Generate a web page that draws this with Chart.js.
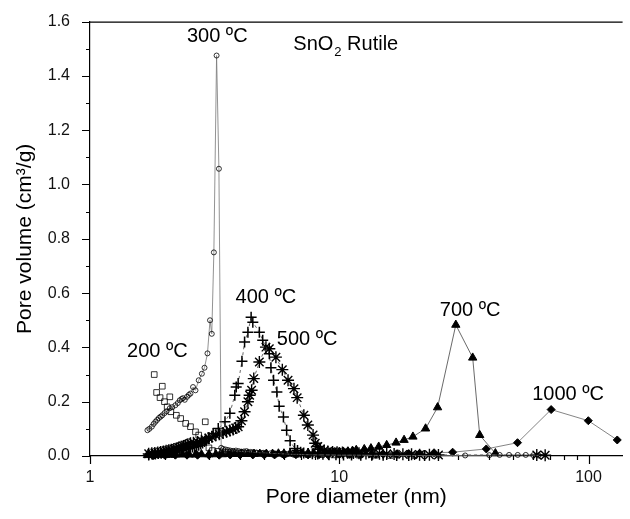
<!DOCTYPE html>
<html lang="en">
<head>
<meta charset="UTF-8">
<title>SnO2 Rutile pore size distribution</title>
<script src="https://cdn.jsdelivr.net/npm/chart.js@4/dist/chart.umd.min.js"></script>
<style>
  * { margin: 0; padding: 0; box-sizing: border-box; }
  body { background: #fff; width: 630px; height: 519px; overflow: hidden; }
  #wrap { position: relative; width: 630px; height: 519px; }
</style>
</head>
<body>
<div id="wrap"><canvas id="chart"></canvas></div>
<script>
// pore diameter (nm), pore volume (cm3/g)
const s200 = [[1.81,0.30],[1.85,0.234],[1.91,0.215],[1.95,0.257],[1.99,0.20],[2.04,0.181],[2.09,0.218],[2.11,0.163],
  [2.22,0.15],[2.31,0.138],[2.42,0.12],[2.53,0.108],[2.65,0.089],[2.73,0.077],[2.90,0.126],[3.0,0.03],[3.1,0.02],
  [3.25,0.017],[3.4,0.015],[3.6,0.013],[3.8,0.012],[4.05,0.011],[4.3,0.01],[4.6,0.009],[5.0,0.008],[5.5,0.007],
  [6.0,0.006],[6.7,0.006],[7.5,0.005],[8.5,0.005],[9.5,0.004],[11,0.004],[12,0.003],[14,0.003],[16,0.002],[20,0.002]];

const s300 = [[1.70,0.095],[1.73,0.100],[1.77,0.108],[1.80,0.118],[1.83,0.126],[1.86,0.133],[1.89,0.14],[1.92,0.145],
  [1.95,0.15],[1.99,0.158],[2.03,0.165],[2.09,0.176],[2.14,0.18],[2.20,0.187],[2.25,0.195],[2.29,0.205],[2.33,0.21],
  [2.36,0.213],[2.40,0.207],[2.45,0.218],[2.49,0.225],[2.53,0.23],[2.59,0.254],[2.65,0.242],[2.73,0.279],[2.81,0.303],
  [2.88,0.325],[2.96,0.378],[3.03,0.50],[3.08,0.45],[3.14,0.75],[3.22,1.475],[3.29,1.058],[3.36,0.03],[3.42,0.026],
  [3.5,0.024],[3.58,0.022],[3.66,0.02],[3.75,0.019],[3.85,0.02],[3.95,0.018],[4.05,0.016],[4.15,0.017],[4.25,0.018],
  [4.4,0.015],[4.5,0.014],[4.65,0.013],[4.8,0.012],[4.95,0.012],[5.1,0.011],[5.3,0.01],[5.5,0.009],[5.7,0.009],
  [5.9,0.008],[6.2,0.007],[6.5,0.006],[6.9,0.006],[7.4,0.005],[8,0.004],[9,0.004],[10,0.003],[12,0.003],[14,0.002],
  [17,0.002],[20,0.002],[25,0.001],[32,0.002],[40,0.003],[44,0.004],[48,0.004],[52,0.004],[56,0.004],[60,0.003],[63,0.002]];

const s400 = [[1.72,0.004],[1.78,0.006],[1.83,0.007],[1.88,0.009],[1.93,0.01],[1.98,0.011],[2.03,0.012],[2.08,0.014],
  [2.13,0.015],[2.18,0.017],[2.23,0.018],[2.28,0.02],[2.33,0.022],[2.38,0.024],[2.43,0.026],[2.48,0.028],[2.53,0.03],
  [2.58,0.033],[2.63,0.035],[2.68,0.037],[2.73,0.04],[2.78,0.044],[2.83,0.048],[2.88,0.053],[2.93,0.058],[2.99,0.065],
  [3.12,0.083],[3.27,0.101],[3.48,0.126],[3.64,0.157],[3.81,0.224],[3.86,0.254],[3.93,0.267],[4.07,0.349],[4.17,0.42],
  [4.30,0.456],[4.43,0.511],[4.50,0.493],[4.78,0.456],[4.93,0.426],[5.24,0.377],[5.32,0.325],[5.45,0.279],[5.62,0.236],
  [5.74,0.183],[5.97,0.144],[6.15,0.095],[6.35,0.056],[6.62,0.028],[6.8,0.02],[7.0,0.014],[7.2,0.011],[7.5,0.009],
  [7.8,0.008],[8.2,0.007],[8.6,0.006],[9.1,0.005],[9.7,0.005],[10.4,0.004],[11.2,0.004],[12.2,0.003],[13.5,0.003],
  [15,0.003],[17,0.002],[19,0.002],[22,0.002]];

const s500 = [[1.72,0.008],[1.77,0.01],[1.82,0.011],[1.87,0.013],[1.92,0.015],[1.97,0.017],[2.02,0.019],[2.07,0.021],
  [2.12,0.023],[2.17,0.026],[2.22,0.028],[2.27,0.031],[2.32,0.034],[2.37,0.037],[2.42,0.04],[2.47,0.043],[2.53,0.047],
  [2.6,0.049],[2.7,0.052],[2.8,0.056],[2.9,0.06],[3.0,0.066],[3.08,0.071],[3.2,0.076],[3.3,0.08],[3.42,0.085],
  [3.53,0.089],[3.64,0.094],[3.75,0.098],[3.84,0.103],[3.93,0.108],[4.05,0.13],[4.17,0.163],[4.30,0.2],[4.37,0.224],
  [4.45,0.242],[4.54,0.285],[4.78,0.346],[5.08,0.401],[5.24,0.395],[5.57,0.364],[5.91,0.318],[6.23,0.279],[6.58,0.248],
  [6.78,0.215],[7.21,0.15],[7.48,0.114],[7.85,0.077],[8.01,0.047],[8.2,0.035],[8.4,0.025],[8.7,0.02],[9,0.017],
  [9.4,0.015],[9.8,0.014],[10.3,0.013],[10.8,0.012],[11.4,0.011],[12,0.01],[12.8,0.009],[13.6,0.008],[14.5,0.008],
  [15.5,0.007],[16.6,0.007],[18,0.006],[19.5,0.006],[21,0.005],[23,0.005],[25,0.004],[62,0.004],[67,0.003]];

const s700 = [[1.7,0.003],[1.8,0.003],[1.9,0.004],[2.0,0.004],[2.1,0.004],[2.2,0.005],[2.35,0.005],[2.5,0.005],
  [2.65,0.005],[2.8,0.006],[3.0,0.006],[3.2,0.006],[3.4,0.006],[3.6,0.007],[3.8,0.007],[4.05,0.007],[4.3,0.007],
  [4.55,0.008],[4.8,0.008],[5.1,0.008],[5.4,0.008],[5.7,0.009],[6.0,0.009],[6.35,0.009],[6.7,0.01],[7.1,0.01],
  [7.5,0.011],[7.9,0.011],[8.3,0.012],[8.8,0.012],[9.2,0.013],[9.6,0.014],[10.0,0.015],[10.4,0.015],[10.85,0.016],
  [11.3,0.019],[11.7,0.022],[12.6,0.025],[13.4,0.028],[14.4,0.034],[15.5,0.04],[16.9,0.049],[18.2,0.059],
  [19.75,0.071],[22.2,0.101],[24.8,0.179],[29.35,0.483],[34.3,0.362],[36.6,0.077],[42.3,0.01]];

const s1000 = [[1.8,0.002],[2.0,0.003],[2.2,0.003],[2.45,0.003],[2.7,0.003],[3.0,0.003],[3.3,0.003],[3.65,0.004],
  [4,0.004],[4.5,0.004],[5,0.004],[5.5,0.004],[6,0.004],[6.7,0.005],[7.5,0.005],[8.3,0.005],[9,0.005],[10,0.006],
  [11,0.006],[12.2,0.006],[13.5,0.007],[15,0.007],[17,0.008],[19,0.009],[21,0.01],[24,0.012],[28.5,0.014],
  [38.9,0.026],[51.9,0.049],[70.8,0.171],[99.8,0.13],[130.4,0.059]];

// axis ticks
const xMin = 1, xMax = 137;
const xMajor = [1, 10, 100];
const xMinor = [2, 3, 4, 5, 6, 7, 8, 9, 20, 30, 40, 50, 60, 70, 80, 90];
const yMajor = [0, 0.2, 0.4, 0.6, 0.8, 1.0, 1.2, 1.4, 1.6];
const yMinor = [0.1, 0.3, 0.5, 0.7, 0.9, 1.1, 1.3, 1.5];

// in-plot labels, anchored in data units (centre x, baseline y)
const labelText = ['300 \u00baC', '400 \u00baC', '500 \u00baC', '200 \u00baC', '700 \u00baC', '1000 \u00baC'];
const labelX = [3.24, 5.08, 7.43, 1.864, 33.5, 82.8];
const labelY = [1.524, 0.5626, 0.407, 0.364, 0.515, 0.208];
const titleX = 6.54, titleY = 1.496;

const FONT = '"Liberation Sans", Arial, sans-serif';
const pts = arr => arr.map(p => ({ x: p[0], y: p[1] }));

function series(data, style, radius, fill, bw, line, dash) {
  return {
    data: pts(data),
    pointStyle: style,
    pointRadius: radius,
    pointHoverRadius: radius,
    pointBorderColor: '#000',
    pointBackgroundColor: fill ? '#000' : 'rgba(0,0,0,0)',
    pointBorderWidth: bw,
    borderColor: line || 'rgba(0,0,0,0)',
    borderWidth: 0.8,
    borderDash: dash || [],
    showLine: !!line,
    clip: false
  };
}

const frame = {
  id: 'frame',
  afterDraw(chart) {
    const { ctx, chartArea: a, scales: { x, y } } = chart;
    ctx.save();
    ctx.strokeStyle = '#000';
    ctx.lineWidth = 1.2;
    ctx.beginPath();
    ctx.moveTo(a.left, a.top + 0.5);
    ctx.lineTo(a.right, a.top + 0.5);
    yMajor.forEach(v => { const p = Math.round(y.getPixelForValue(v)) + 0.5; ctx.moveTo(a.left - 8, p); ctx.lineTo(a.left, p); });
    yMinor.forEach(v => { const p = Math.round(y.getPixelForValue(v)) + 0.5; ctx.moveTo(a.left - 4, p); ctx.lineTo(a.left, p); });
    xMajor.forEach(v => { const p = Math.round(x.getPixelForValue(v)) + 0.5; ctx.moveTo(p, a.bottom); ctx.lineTo(p, a.bottom + 8); });
    xMinor.forEach(v => { const p = Math.round(x.getPixelForValue(v)) + 0.5; ctx.moveTo(p, a.bottom); ctx.lineTo(p, a.bottom + 4); });
    ctx.stroke();

    ctx.fillStyle = '#000';
    ctx.textBaseline = 'alphabetic';
    ctx.textAlign = 'center';
    ctx.font = '20px ' + FONT;
    labelText.forEach((t, i) => ctx.fillText(t, x.getPixelForValue(labelX[i]), y.getPixelForValue(labelY[i])));

    // SnO2 Rutile with subscript
    ctx.textAlign = 'left';
    let tx = x.getPixelForValue(titleX);
    const ty = y.getPixelForValue(titleY);
    ctx.font = '20px ' + FONT;
    ctx.fillText('SnO', tx, ty);
    tx += ctx.measureText('SnO').width;
    ctx.font = '13px ' + FONT;
    ctx.fillText('2', tx + 1, ty + 6);
    tx += ctx.measureText('2').width + 1;
    ctx.font = '20px ' + FONT;
    ctx.fillText(' Rutile', tx, ty);
    ctx.restore();
  }
};

new Chart(document.getElementById('chart'), {
  type: 'scatter',
  data: {
    datasets: [
      series(s200, 'rect', 4, false, 0.8, null),
      series(s300, 'circle', 2.5, false, 0.8, '#777'),
      series(s400, 'cross', 5.5, false, 1.5, '#444', [3, 3]),
      series(s500, 'star', 6, false, 1.4, '#444', [3, 3]),
      series(s700, 'triangle', 4.8, true, 1, '#444'),
      series(s1000, 'rectRot', 4, true, 1, '#666')
    ]
  },
  options: {
    responsive: true,
    maintainAspectRatio: false,
    animation: false,
    events: [],
    layout: { padding: { top: 19, right: 0, left: 0, bottom: 0 } },
    plugins: { legend: { display: false }, tooltip: { enabled: false } },
    scales: {
      x: {
        type: 'logarithmic',
        min: xMin,
        max: xMax,
        afterBuildTicks: s => { s.ticks = xMajor.map(v => ({ value: v })); },
        afterFit: s => { s.height = 63; },
        grid: { display: false },
        border: { display: true, color: '#000', width: 1.2 },
        ticks: {
          padding: 4,
          color: '#111',
          font: { family: FONT, size: 16 },
          maxRotation: 0,
          callback: v => String(v)
        },
        title: {
          display: true,
          text: 'Pore diameter (nm)',
          color: '#000',
          font: { family: FONT, size: 21, lineHeight: 1 },
          padding: { top: 0, bottom: 11 }
        }
      },
      y: {
        min: 0,
        max: 1.6,
        afterBuildTicks: s => { s.ticks = yMajor.map(v => ({ value: v })); },
        afterFit: s => { s.width = 90; },
        grid: { display: false },
        border: { display: true, color: '#000', width: 1.2 },
        ticks: {
          padding: 12,
          color: '#111',
          font: { family: FONT, size: 16 },
          callback: v => v.toFixed(1)
        },
        title: {
          display: true,
          text: 'Pore volume (cm\u00b3/g)',
          color: '#000',
          font: { family: FONT, size: 21, lineHeight: 1 },
          padding: { top: 15, bottom: 0 }
        }
      }
    }
  },
  plugins: [frame]
});
</script>
</body>
</html>
